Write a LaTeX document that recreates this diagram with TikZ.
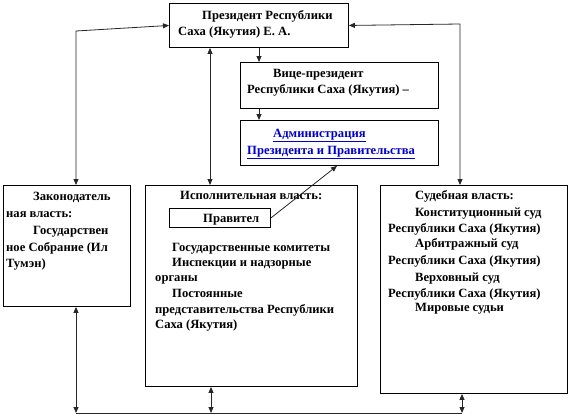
\documentclass[tikz,border=0pt]{standalone}
\usepackage{fontspec}
\setmainfont{Liberation Serif}
\usetikzlibrary{arrows.meta}

\begin{document}
\begin{tikzpicture}[x=1pt,y=-1pt,
    box/.style={draw, line width=0.9pt, inner sep=0pt, anchor=north west, fill=white},
    txt/.style={anchor=base west, inner sep=0pt, font=\bfseries\fontsize{12.6}{14}\selectfont},
    link/.style={draw=black!85, line width=0.8pt},
    onetip/.style={-{Triangle[length=6pt,width=5pt]}},
    twotip/.style={{Triangle[length=6pt,width=5pt]}-{Triangle[length=6pt,width=5pt]}}]
        % Define colors
        \definecolor{linkblue}{rgb}{0.0, 0.0, 0.8} % Hyperlink blue

        % Fix the page size
        \useasboundingbox (0,0) rectangle (570,415);

        % Draw boxes
        \node[box, minimum width=179pt, minimum height=44pt] (pres) at (169,3) {}; % President
        \node[box, minimum width=198pt, minimum height=46pt] (vp) at (240,62) {}; % Vice-president
        \node[box, minimum width=198pt, minimum height=45pt] (adm) at (240,120) {}; % Administration
        \node[box, minimum width=127pt, minimum height=121pt] (leg) at (3,185) {}; % Legislative
        \node[box, minimum width=212pt, minimum height=201pt] (exec) at (145,185) {}; % Executive
        \node[box, minimum width=187pt, minimum height=208pt] (jud) at (380,185) {}; % Judicial

        % Texts of the upper boxes
        \node[txt] (pres1) at (202,19) {Президент Республики};
        \node[txt] (pres2) at (178,35) {Саха (Якутия) Е. А.};
        \node[txt] (vp1) at (273,77) {Вице-президент};
        \node[txt] (vp2) at (247,93) {Республики Саха (Якутия) –};
        \node[txt, text=linkblue] (adm1) at (273,137) {\underline{Администрация}};
        \node[txt, text=linkblue] (adm2) at (247,154) {\underline{Президента и Правительства}};

        % Texts of the legislative box
        \node[txt] (leg1) at (33,200) {Законодатель};
        \node[txt] (leg2) at (6,217) {ная власть:};
        \node[txt] (leg3) at (33,234) {Государствен};
        \node[txt] (leg4) at (6,251) {ное Собрание (Ил};
        \node[txt] (leg5) at (6,267) {Тумэн)};

        % Texts of the executive box
        \node[txt] (exec1) at (180,199) {Исполнительная власть:};
        \node[txt] (exec2) at (172,251) {Государственные комитеты};
        \node[txt] (exec3) at (172,266) {Инспекции и надзорные};
        \node[txt] (exec4) at (155,281) {органы};
        \node[txt] (exec5) at (172,297) {Постоянные};
        \node[txt] (exec6) at (155,313) {представительства Республики};
        \node[txt] (exec7) at (155,328) {Саха (Якутия)};
        \node[box, minimum width=101pt, minimum height=19pt] (prav) at (169,208) {}; % Government
        \node[txt] (prav1) at (203,222) {Правител};

        % Texts of the judicial box
        \node[txt] (jud1) at (415,199) {Судебная власть:};
        \node[txt] (jud2) at (415,216) {Конституционный суд};
        \node[txt] (jud3) at (388,232) {Республики Саха (Якутия)};
        \node[txt] (jud4) at (415,247) {Арбитражный суд};
        \node[txt] (jud5) at (388,264) {Республики Саха (Якутия)};
        \node[txt] (jud6) at (415,281) {Верховный суд};
        \node[txt] (jud7) at (388,297) {Республики Саха (Якутия)};
        \node[txt] (jud8) at (415,311) {Мировые судьи};

        % Corner points of the connectors
        \coordinate (lc) at (76,31); % Left corner
        \coordinate (rc) at (460,24); % Right corner
        \coordinate (ax) at (210,0); % President -- executive
        \coordinate (vx) at (259,0); % President -- vice-president
        \coordinate (px) at (337,0); % Government -- administration
        \coordinate (bl) at (76,413); % Bottom left
        \coordinate (bm) at (211,413); % Bottom middle
        \coordinate (br) at (462,413); % Bottom right

        % Draw connectors
        \draw[link, twotip] (leg.north -| lc) -- (lc) -- (pres.west);
        \draw[link, twotip] (jud.north -| rc) -- (rc) -- (pres.east);
        \draw[link, twotip] (pres.south -| ax) -- (exec.north -| ax);
        \draw[link, onetip] (pres.south -| vx) -- (vp.north -| vx);
        \draw[link, onetip] (vp.south -| vx) -- (adm.north -| vx);
        \draw[link, onetip] (prav.east) -- (adm.south -| px);
        \draw[link] (bl) -- (br);
        \draw[link, twotip] (leg.south -| bl) -- (bl);
        \draw[link, twotip] (exec.south -| bm) -- (bm);
        \draw[link, twotip] (jud.south -| br) -- (br);
        \end{tikzpicture}
\end{document}
